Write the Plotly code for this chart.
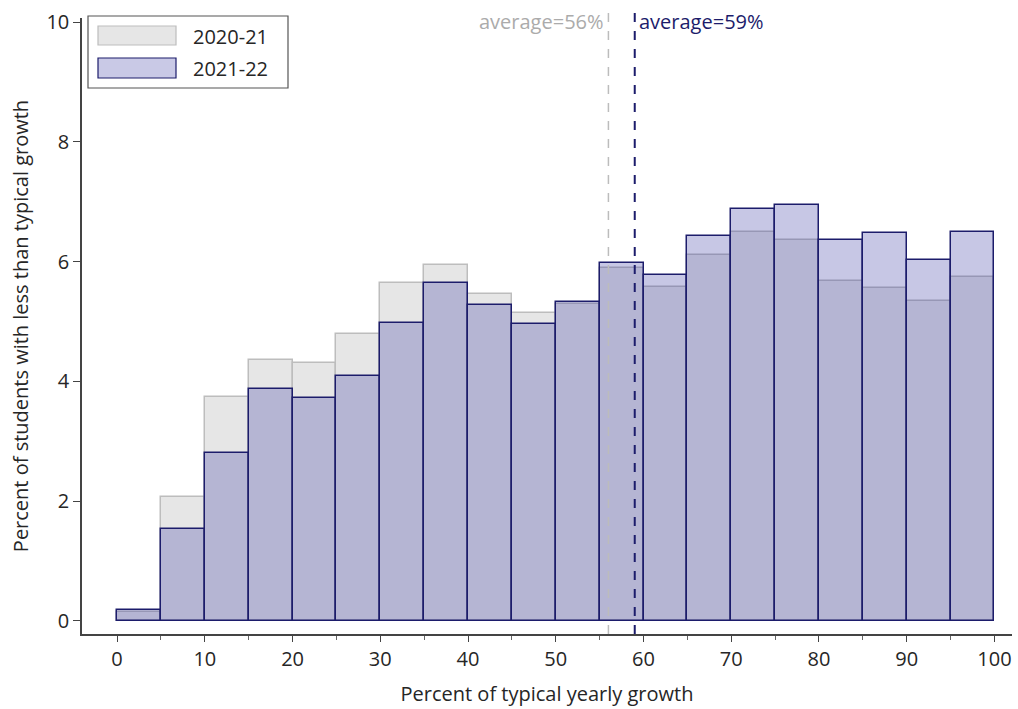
import plotly.graph_objects as go

# Histogram bins (percent of typical yearly growth), 5-point wide
bin_starts = [0, 5, 10, 15, 20, 25, 30, 35, 40, 45, 50, 55, 60, 65, 70, 75, 80, 85, 90, 95]
bin_width = 5

# Percent of students with less than typical growth, per bin
pct_2020_21 = [0.15, 2.07, 3.74, 4.36, 4.31, 4.79, 5.64, 5.94, 5.46, 5.14,
               5.30, 5.89, 5.58, 6.11, 6.49, 6.36, 5.68, 5.56, 5.34, 5.74]
pct_2021_22 = [0.18, 1.54, 2.80, 3.87, 3.72, 4.09, 4.97, 5.64, 5.27, 4.96,
               5.33, 5.98, 5.78, 6.43, 6.88, 6.94, 6.36, 6.48, 6.03, 6.49]

avg_2020_21 = 56
avg_2021_22 = 59

x_ticks = list(range(0, 101, 10))
y_ticks = list(range(0, 11, 2))

FONT = "Open Sans"
FS = 20
TEXT = "#262626"
NAVY = "#1c1c6b"
GRAY_LINE = "#bdbdbd"
GRAY_FILL = "#e6e6e6"
PURPLE_FILL = "rgba(55,55,160,0.28)"

W, H = 1018, 709
ML, MR, MT, MB = 82, 6, 18, 75
PW, PH = W - ML - MR, H - MT - MB


def px(x):
    return (x - ML) / PW


def py(y):
    return (H - MB - y) / PH


centers = [b + bin_width / 2 for b in bin_starts]

fig = go.Figure()
fig.add_trace(go.Bar(
    x=centers, y=pct_2020_21, width=bin_width, name="2020-21",
    marker=dict(color=GRAY_FILL, line=dict(color=GRAY_LINE, width=1.5)),
    showlegend=False,
))
fig.add_trace(go.Bar(
    x=centers, y=pct_2021_22, width=bin_width, name="2021-22",
    marker=dict(color=PURPLE_FILL, line=dict(color=NAVY, width=1.5)),
    showlegend=False,
))

# Average reference lines
fig.add_shape(type="line", xref="x", yref="paper", x0=avg_2020_21, x1=avg_2020_21,
              y0=0, y1=py(8), line=dict(color="#bcbcbc", width=1.5, dash="dash"))
fig.add_shape(type="line", xref="x", yref="paper", x0=avg_2021_22, x1=avg_2021_22,
              y0=0, y1=py(8), line=dict(color=NAVY, width=2, dash="dash"))
fig.add_annotation(x=avg_2020_21, xref="x", y=py(22), yref="paper", xshift=-2,
                   text=f"average={avg_2020_21}%", showarrow=False, xanchor="right",
                   yanchor="middle", font=dict(family=FONT, size=FS, color="#ababab"))
fig.add_annotation(x=avg_2021_22, xref="x", y=py(22), yref="paper", xshift=2,
                   text=f"average={avg_2021_22}%", showarrow=False, xanchor="left",
                   yanchor="middle", font=dict(family=FONT, size=FS, color=NAVY))

# Legend box with wide swatches
fig.add_shape(type="rect", xref="paper", yref="paper", x0=px(88), x1=px(288),
              y0=py(88), y1=py(16), line=dict(color="#555555", width=1.2),
              fillcolor="white", layer="above")
fig.add_shape(type="rect", xref="paper", yref="paper", x0=px(98), x1=px(176),
              y0=py(45), y1=py(26), line=dict(color=GRAY_LINE, width=1.2),
              fillcolor=GRAY_FILL, layer="above")
fig.add_shape(type="rect", xref="paper", yref="paper", x0=px(98), x1=px(176),
              y0=py(78), y1=py(58), line=dict(color=NAVY, width=1.2),
              fillcolor="#c9c9e6", layer="above")
for label, yy in (("2020-21", 36), ("2021-22", 68)):
    fig.add_annotation(x=px(191), y=py(yy), xref="paper", yref="paper", text=label,
                       showarrow=False, xanchor="left", yanchor="middle",
                       font=dict(family=FONT, size=FS, color=TEXT))

fig.update_layout(
    width=W, height=H,
    margin=dict(l=ML, r=MR, t=MT, b=MB),
    paper_bgcolor="white", plot_bgcolor="white",
    barmode="overlay", bargap=0,
    font=dict(family=FONT, size=FS, color=TEXT),
)
fig.update_xaxes(
    range=[-4, 102], tickvals=x_ticks, showgrid=False, zeroline=False,
    showline=True, linecolor="#444444", linewidth=1.5,
    ticks="outside", ticklen=6, tickcolor="#444444",
    minor=dict(tickvals=[b for b in range(5, 100, 10)], ticks="outside", ticklen=4, tickcolor="#666666"),
    tickfont=dict(family=FONT, size=FS, color=TEXT),
    title=dict(text="Percent of typical yearly growth", standoff=16,
               font=dict(family=FONT, size=FS, color=TEXT)),
)
fig.update_yaxes(
    range=[-0.22, 10.07], tickvals=y_ticks, showgrid=False, zeroline=False,
    showline=True, linecolor="#444444", linewidth=1.5,
    ticks="outside", ticklen=7, tickcolor="#444444",
    tickfont=dict(family=FONT, size=FS, color=TEXT),
    title=dict(text="Percent of students with less than typical growth", standoff=12,
               font=dict(family=FONT, size=FS, color=TEXT)),
)

fig.write_html("out.html")
